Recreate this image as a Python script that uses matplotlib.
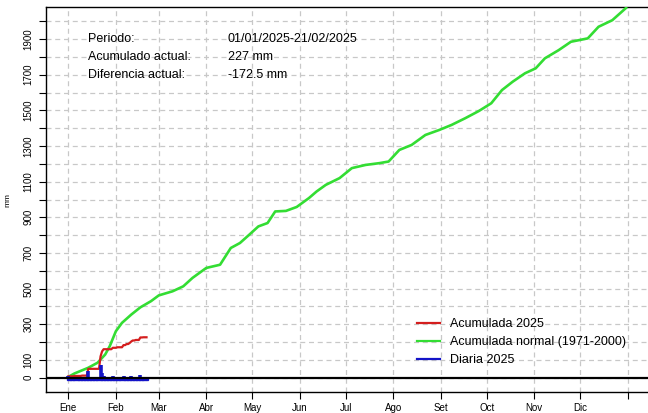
import matplotlib.pyplot as plt
from matplotlib.lines import Line2D
import numpy as np

plt.rcParams['font.family'] = ['Liberation Sans', 'DejaVu Sans']

# --- data ---
month_labels = ["Ene", "Feb", "Mar", "Abr", "May", "Jun", "Jul", "Ago",
                "Set", "Oct", "Nov", "Dic", ""]
month_starts = [1, 32, 60, 91, 121, 152, 182, 213, 244, 274, 305, 335, 366]

# accumulated normal 1971-2000 (day of year, mm)
normal_days = [1, 5, 14, 20, 25, 28, 32, 36, 42, 48, 55, 60, 69, 76, 82, 91,
               100, 107, 113, 119, 125, 131, 136, 143, 150, 158, 163, 169, 178,
               186, 195, 204, 210, 217, 225, 234, 243, 251, 260, 269, 277, 284,
               291, 299, 306, 312, 321, 329, 340, 347, 356, 365]
normal_mm = [5, 24, 56, 84, 130, 177, 261, 308, 354, 395, 430, 462, 485, 513,
             560, 616, 634, 728, 756, 802, 849, 868, 933, 936, 958, 1008, 1045,
             1082, 1120, 1176, 1194, 1204, 1213, 1278, 1306, 1362, 1390, 1418,
             1456, 1497, 1540, 1614, 1661, 1708, 1736, 1792, 1838, 1885, 1904,
             1969, 2006, 2075]

# daily rain 2025, 01/01 - 21/02 (mm)
daily_2025 = [8, 0, 0, 0, 2, 0, 0, 0, 0, 2, 0, 0, 0, 38, 0, 0, 0, 0, 0, 0,
              0, 70, 28, 12, 0, 0, 0, 0, 0, 8, 0, 0, 3, 0, 0, 0, 12, 0, 6, 0,
              6, 8, 6, 0, 3, 0, 0, 14, 0, 1, 0, 0]
days_2025 = np.arange(1, len(daily_2025) + 1)
acum_2025 = np.cumsum(daily_2025)

info_labels = ["Periodo:", "Acumulado actual:", "Diferencia actual:"]
info_values = ["01/01/2025-21/02/2025", "227 mm", "-172.5 mm"]

RED, GREEN, BLUE = '#d41e1e', '#33dd33', '#1414c8'

# --- plot ---
fig = plt.figure(figsize=(6.48, 4.13), dpi=100)
ax = fig.add_axes([46 / 648, 1 - 392 / 413, 604 / 648, 385 / 413])

ax.set_xlim(-13.6, 380.6)
ax.set_ylim(-80, 2080)

grid_kw = dict(color='#c8c8c8', lw=0.9, ls=(0, (4, 3)), zorder=0)
for v in range(0, 2001, 100):
    ax.axhline(v, **grid_kw)
for d in month_starts:
    ax.axvline(d, **grid_kw)

ax.plot(normal_days, normal_mm, color=GREEN, lw=1.9, zorder=3)
ax.plot(days_2025, acum_2025, color=RED, lw=1.6, zorder=4)
ax.vlines(days_2025, 0, daily_2025, color=BLUE, lw=2.6, zorder=5)
ax.plot(days_2025, np.zeros(len(days_2025)) - 8, ls='none', marker='s',
        ms=1.4, color=BLUE, zorder=5)
ax.axhline(0, color='black', lw=1.6, zorder=6)

ax.set_xticks(month_starts)
ax.set_xticklabels(month_labels, fontsize=7)
yt = list(range(0, 2001, 100))
ax.set_yticks(yt)
ax.set_yticklabels([str(v) if (v == 0 or (v // 100) % 2 == 1) else ''
                    for v in yt], fontsize=7, rotation=90, va='center')
ax.tick_params(direction='out', length=5, width=0.8, pad=4)
ax.tick_params(axis='x', pad=3)
ax.spines['right'].set_visible(False)
for s in ['left', 'top', 'bottom']:
    ax.spines[s].set_linewidth(1.0)

fig.text(8 / 648, 1 - 200 / 413, 'mm', fontsize=6, rotation=90,
         ha='center', va='center')

for i, (lab, val) in enumerate(zip(info_labels, info_values)):
    y = 1 - (38.5 + 18 * i) / 413
    fig.text(88 / 648, y, lab, fontsize=9, va='center', ha='left')
    fig.text(228 / 648, y, val, fontsize=9, va='center', ha='left')

handles = [Line2D([], [], color=c, lw=1.6) for c in (RED, GREEN, BLUE)]
labels = ['Acumulada 2025', 'Acumulada normal (1971-2000)', 'Diaria 2025']
fig.legend(handles, labels, loc='upper left',
           bbox_to_anchor=(417 / 648, 1 - 318 / 413),
           frameon=False, fontsize=9, handlelength=1.8,
           handletextpad=0.8, labelspacing=0.48, borderpad=0,
           borderaxespad=0)

fig.savefig('out.png', dpi=100)
